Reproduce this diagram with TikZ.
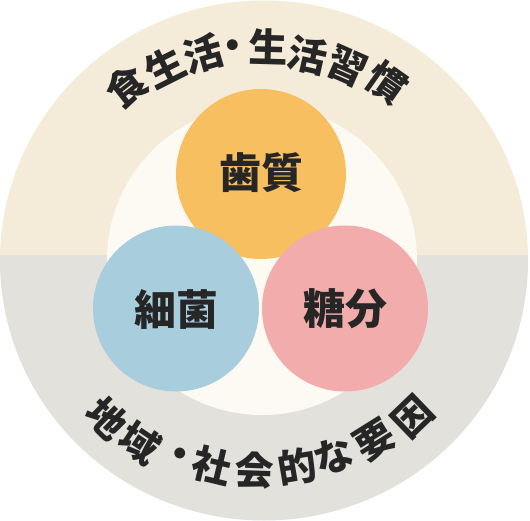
\documentclass[tikz,border=0pt]{standalone}
\usepackage{fontspec}
\newfontfamily\cjk{Noto Sans CJK JP}
\definecolor{beige}{HTML}{F5EBD9}
\definecolor{greyband}{HTML}{E3E1DC}
\definecolor{innerw}{HTML}{FDFAF4}
\definecolor{orangec}{HTML}{F7BF5F}
\definecolor{bluec}{HTML}{A8CEDD}
\definecolor{pinkc}{HTML}{F2ACAB}
\definecolor{ink}{HTML}{262626}
\tikzset{
  arcchar/.style={inner sep=0pt, text=ink, font=\cjk\bfseries\fontsize{39}{39}\selectfont},
  circlabel/.style={inner sep=0pt, text=ink, font=\cjk\bfseries\fontsize{42}{42}\selectfont},
  factor/.style={circle, inner sep=0pt, minimum size=#1, draw=none}
}
\begin{document}
\begin{tikzpicture}[x=1pt,y=-1pt]
\useasboundingbox (0,0) rectangle (530,521);
% outer band
\begin{scope}
  \clip (264,260.5) ellipse [x radius=264, y radius=260];
  \fill[beige] (0,0) rectangle (530,255.5);
  \fill[greyband] (0,255.5) rectangle (530,521);
\end{scope}
% inner disc
\fill[innerw] (262,260) circle [radius=155];
% three factors
\node[factor=170pt, fill=orangec] (enamel) at (261,174) {};
\node[factor=166pt, fill=bluec] (bacteria) at (176,308.5) {};
\node[factor=166pt, fill=pinkc] (sugar) at (345,308.5) {};
\node[circlabel] (enamelT) at (261,173) {歯質};
\node[circlabel] (bacteriaT) at (176,309) {細菌};
\node[circlabel] (sugarT) at (345,309) {糖分};
% top arc text
\node[arcchar, rotate=38]   (t1) at (127,87) {食};
\node[arcchar, rotate=26.7] (t2) at (165,67) {生};
\node[arcchar, rotate=16]   (t3) at (203,54) {活};
\node[arcchar, rotate=7.9]  (t4) at (233,50) {・};
\node[arcchar, rotate=-1.6] (t5) at (268,47) {生};
\node[arcchar, rotate=-12.6](t6) at (308,55) {活};
\node[arcchar, rotate=-23.8](t7) at (347,67) {習};
\node[arcchar, rotate=-35.2](t8) at (387,83) {慣};
% bottom arc text
\node[arcchar, rotate=-44.5] (b1) at (107,418) {地};
\node[arcchar, rotate=-33.7] (b2) at (140,443) {域};
\node[arcchar, rotate=-23]   (b3) at (178,458) {・};
\node[arcchar, rotate=-13.6] (b4) at (212,466) {社};
\node[arcchar, rotate=-2]    (b5) at (255,470) {会};
\node[arcchar, rotate=9.6]   (b6) at (297,467) {的};
\node[arcchar, rotate=20.2]  (b7) at (334,456) {な};
\node[arcchar, rotate=32]    (b8) at (375,440) {要};
\node[arcchar, rotate=43.9]  (b9) at (413,417) {因};
\end{tikzpicture}
\end{document}
